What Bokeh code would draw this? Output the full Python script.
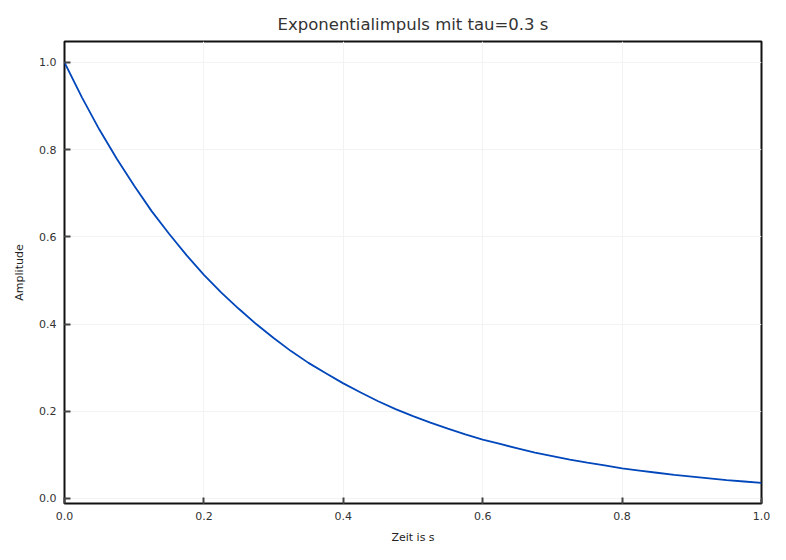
from bokeh.plotting import figure
from bokeh.models import Range1d, FixedTicker, NumeralTickFormatter
from bokeh.embed import file_html
from bokeh.resources import INLINE

# Zeit in s (Schritte von 0.025 s)
zeit = [0.000, 0.025, 0.050, 0.075, 0.100, 0.125, 0.150, 0.175, 0.200, 0.225,
        0.250, 0.275, 0.300, 0.325, 0.350, 0.375, 0.400, 0.425, 0.450, 0.475,
        0.500, 0.525, 0.550, 0.575, 0.600, 0.625, 0.650, 0.675, 0.700, 0.725,
        0.750, 0.775, 0.800, 0.825, 0.850, 0.875, 0.900, 0.925, 0.950, 0.975,
        1.000]
# Amplitude
amplitude = [1.000, 0.920, 0.846, 0.779, 0.717, 0.659, 0.607, 0.558, 0.513, 0.472,
             0.435, 0.400, 0.368, 0.338, 0.311, 0.287, 0.264, 0.243, 0.223, 0.205,
             0.189, 0.174, 0.160, 0.147, 0.135, 0.125, 0.115, 0.105, 0.097, 0.089,
             0.082, 0.076, 0.069, 0.064, 0.059, 0.054, 0.050, 0.046, 0.042, 0.039,
             0.036]
x_ticks = [0.0, 0.2, 0.4, 0.6, 0.8, 1.0]
y_ticks = [0.0, 0.2, 0.4, 0.6, 0.8, 1.0]

FONT = "DejaVu Sans"

p = figure(width=778, height=552, output_backend="svg", toolbar_location=None,
           x_range=Range1d(0, 1), y_range=Range1d(-0.0115, 1.048),
           title="Exponentialimpuls mit tau=0.3 s",
           min_border_left=64, min_border_right=17, min_border_top=41, min_border_bottom=49)

p.title.align = "center"
p.title.text_font = FONT
p.title.text_font_size = "16.5px"
p.title.text_font_style = "normal"
p.title.text_color = "#333333"
p.title.standoff = 16

p.outline_line_color = "#111111"
p.outline_line_width = 2
p.outline_line_alpha = 1

for ax in (p.xaxis[0], p.yaxis[0]):
    ax.axis_line_color = None
    ax.major_tick_in = 6
    ax.major_tick_out = 0
    ax.major_tick_line_color = "#444444"
    ax.major_tick_line_width = 2
    ax.minor_tick_line_color = None
    ax.major_label_text_font = FONT
    ax.major_label_text_font_size = "11px"
    ax.major_label_text_color = "#333333"
    ax.axis_label_text_font = FONT
    ax.axis_label_text_font_size = "11px"
    ax.axis_label_text_font_style = "normal"
    ax.axis_label_text_color = "#222222"
    ax.formatter = NumeralTickFormatter(format="0.0")

p.xaxis[0].ticker = FixedTicker(ticks=x_ticks)
p.yaxis[0].ticker = FixedTicker(ticks=y_ticks)
p.xaxis[0].axis_label = "Zeit is s"
p.yaxis[0].axis_label = "Amplitude"
p.xaxis[0].major_label_standoff = 8
p.yaxis[0].major_label_standoff = 8
p.xaxis[0].axis_label_standoff = 8
p.yaxis[0].axis_label_standoff = 10

p.xgrid.grid_line_color = "#f3f3f3"
p.ygrid.grid_line_color = "#f3f3f3"
p.xgrid.ticker = FixedTicker(ticks=x_ticks)
p.ygrid.ticker = FixedTicker(ticks=y_ticks)

p.line(zeit, amplitude, line_color="#0047bb", line_width=1.8)

open("out.html", "w").write(file_html(p, INLINE))
